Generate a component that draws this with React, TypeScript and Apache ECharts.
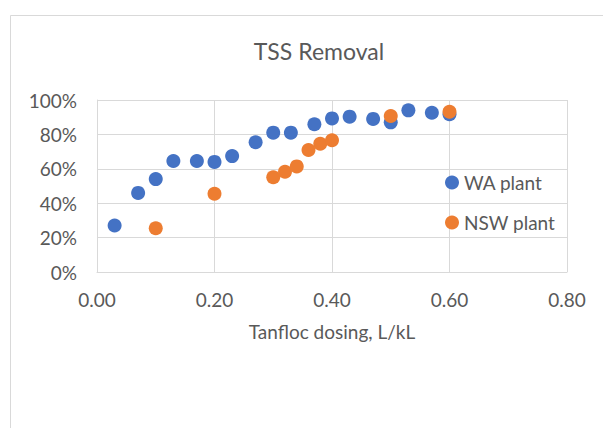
import React, { useEffect, useRef } from "react";
import * as echarts from "echarts";

const waDose = [0.03, 0.07, 0.10, 0.13, 0.17, 0.20, 0.23, 0.27, 0.30, 0.33, 0.37, 0.40, 0.43, 0.47, 0.50, 0.53, 0.57, 0.60];
const waRemoval = [0.27, 0.46, 0.54, 0.645, 0.645, 0.64, 0.674, 0.754, 0.81, 0.81, 0.859, 0.893, 0.903, 0.89, 0.87, 0.94, 0.926, 0.917];
const nswDose = [0.10, 0.20, 0.30, 0.32, 0.34, 0.36, 0.38, 0.40, 0.50, 0.60];
const nswRemoval = [0.254, 0.455, 0.551, 0.583, 0.614, 0.709, 0.746, 0.766, 0.907, 0.932];
const xTicks = [0, 0.2, 0.4, 0.6, 0.8];
const yTicks = [0, 0.2, 0.4, 0.6, 0.8, 1.0];

const FONT = "Lato, 'Liberation Sans', sans-serif";
const TEXT = "#595959";
const GRID = "#d9d9d9";

export default function App() {
  const ref = useRef<HTMLDivElement>(null);
  useEffect(() => {
    if (!ref.current) return;
    const chart = echarts.init(ref.current, undefined, { renderer: "svg" });
    const pair = (xs: number[], ys: number[]) => xs.map((x, i) => [x, ys[i]]);
    chart.setOption({
      animation: false,
      backgroundColor: "#ffffff",
      textStyle: { fontFamily: FONT },
      title: {
        text: "TSS Removal",
        left: 314,
        textAlign: "center",
        top: 34,
        textStyle: { fontFamily: FONT, fontSize: 23, fontWeight: "normal", color: TEXT },
      },
      graphic: [
        {
          type: "rect",
          shape: { x: 10.5, y: 15.5, width: 700, height: 600 },
          style: { fill: "none", stroke: GRID, lineWidth: 1 },
          silent: true,
          z: -1,
        },
      ],
      legend: {
        orient: "vertical",
        left: 445,
        top: 173,
        padding: 0,
        itemWidth: 14,
        itemHeight: 14,
        itemGap: 21,
        icon: "circle",
        textStyle: { fontFamily: FONT, fontSize: 19, color: TEXT },
        data: ["WA plant", "NSW plant"],
      },
      grid: { left: 97, top: 100, right: 36, bottom: 156, containLabel: false },
      xAxis: {
        type: "value",
        min: xTicks[0],
        max: xTicks[xTicks.length - 1],
        interval: 0.2,
        name: "Tanfloc dosing, L/kL",
        nameLocation: "middle",
        nameGap: 50,
        nameTextStyle: { fontFamily: FONT, fontSize: 19, color: TEXT },
        axisLine: { show: true, lineStyle: { color: GRID, width: 1 } },
        axisTick: { show: false },
        axisLabel: {
          margin: 18,
          fontFamily: FONT,
          fontSize: 19,
          color: TEXT,
          formatter: (v: number) => v.toFixed(2),
        },
        splitLine: { show: true, lineStyle: { color: GRID, width: 1 } },
      },
      yAxis: {
        type: "value",
        min: yTicks[0],
        max: yTicks[yTicks.length - 1],
        interval: 0.2,
        axisLine: { show: true, lineStyle: { color: GRID, width: 1 } },
        axisTick: { show: false },
        axisLabel: {
          margin: 20,
          fontFamily: FONT,
          fontSize: 19,
          color: TEXT,
          formatter: (v: number) => Math.round(v * 100) + "%",
        },
        splitLine: { show: true, lineStyle: { color: GRID, width: 1 } },
      },
      series: [
        {
          name: "WA plant",
          type: "scatter",
          symbol: "circle",
          symbolSize: 14,
          itemStyle: { color: "#4472C4", opacity: 1 },
          data: pair(waDose, waRemoval),
        },
        {
          name: "NSW plant",
          type: "scatter",
          symbol: "circle",
          symbolSize: 14,
          itemStyle: { color: "#ED7D31", opacity: 1 },
          data: pair(nswDose, nswRemoval),
        },
      ],
    });
    return () => chart.dispose();
  }, []);
  return <div ref={ref} style={{ width: 603, height: 428, position: "absolute", left: 0, top: 0 }} />;
}
